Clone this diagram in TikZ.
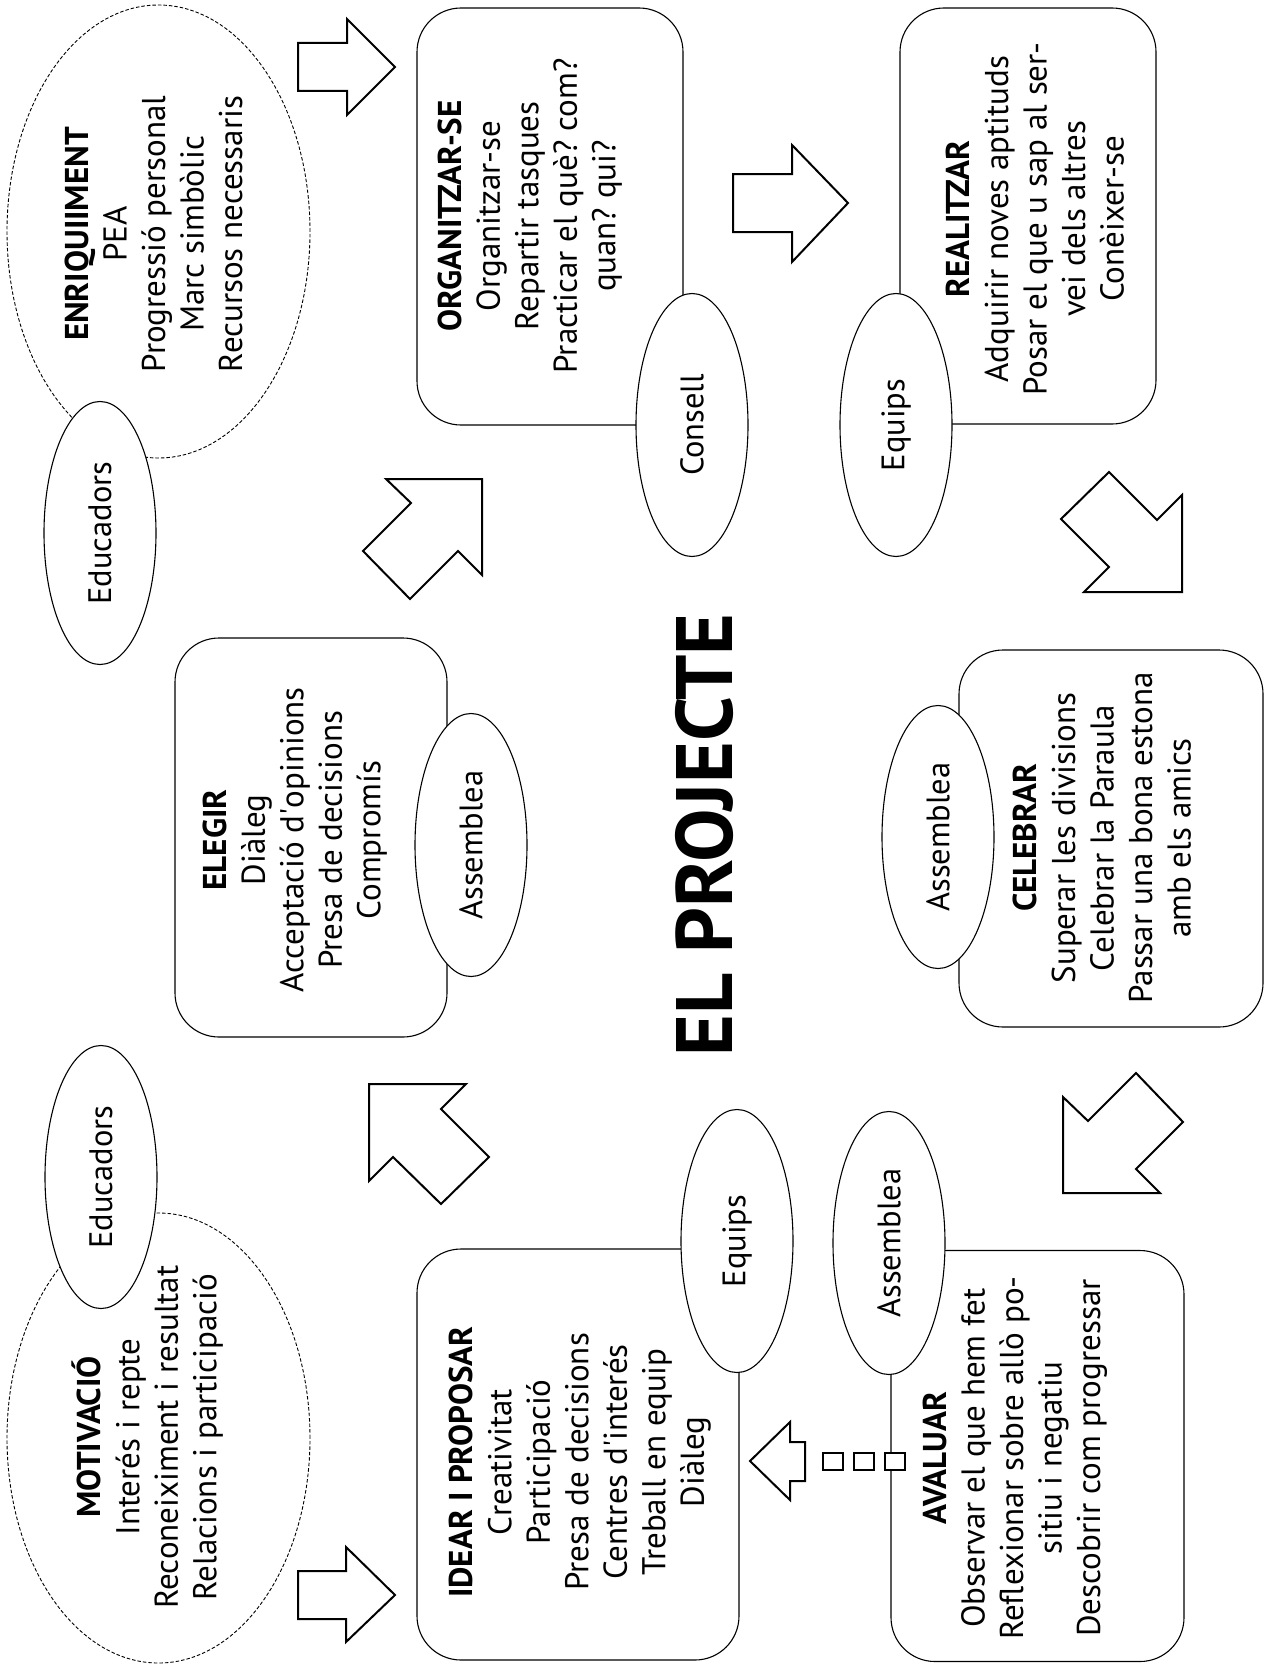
\documentclass[tikz,border=0pt]{standalone}
\usepackage{fontspec}
\setmainfont{PT Sans}
\usetikzlibrary{shapes.geometric}
\frenchspacing
\begin{document}
\begin{tikzpicture}[x=1pt,y=-1pt,
  roundbox/.style={draw, line width=1.1pt, rounded corners=44pt, fill=white, inner sep=0pt},
  tagell/.style={draw, line width=1.1pt, ellipse, fill=white, rotate=90, minimum width=263pt, minimum height=112pt, inner sep=0pt, font=\fontsize{32.5}{36}\selectfont},
  dashell/.style={draw, line width=0.9pt, dash pattern=on 3.5pt off 2pt, ellipse, inner sep=0pt},
  txt/.style={rotate=90, align=center, inner sep=0pt, font=\fontsize{33}{38.5}\selectfont},
  blk/.style={draw, line width=2pt, fill=white, line join=miter},
  sqr/.style={draw, line width=2pt, fill=white}
]
\fill[white] (0,0) rectangle (1266,1667);
\useasboundingbox (0,0) rectangle (1266,1667);

% dashed clouds
\node[dashell, minimum width=303pt, minimum height=453pt] (enrc) at (158.5,231.5) {};
\node[dashell, minimum width=303pt, minimum height=450pt] (motc) at (158.5,1438) {};
\node[txt] (enrt) at (153.5,234) {\textbf{ENRIQUIIMENT}\\PEA\\Progressió personal\\Marc simbòlic\\Recursos necessaris};
\node[txt] (mott) at (147.5,1437) {\textbf{MOTIVACIÓ}\\Interés i repte\\Reconeiximent i resultat\\Relacions i participació};
\node[tagell] (edu1) at (100,533) {Educadors};
\node[tagell] (edu2) at (101,1177) {Educadors};

% boxes
\node[roundbox, minimum width=266pt, minimum height=417pt] (orgb) at (550,216.5) {};
\node[roundbox, minimum width=256pt, minimum height=416pt] (realb) at (1028,216) {};
\node[roundbox, minimum width=272pt, minimum height=399pt] (eleb) at (311,837.5) {};
\node[roundbox, minimum width=304pt, minimum height=377pt] (celb) at (1111,838.5) {};
\node[roundbox, minimum width=322pt, minimum height=411pt] (ideb) at (578,1454.5) {};
\node[roundbox, minimum width=293pt, minimum height=411pt] (avab) at (1037.5,1456) {};

\node[txt] (orgt) at (530,216) {\textbf{ORGANITZAR-SE}\\Organitzar-se\\Repartir tasques\\Practicar el què? com?\\quan? qui?};
\node[txt] (realt) at (1035,219) {\textbf{REALITZAR}\\Adquirir noves aptituds\\Posar el que u sap al ser-\\vei dels altres\\Conèixer-se};
\node[txt] (elet) at (295,840) {\textbf{ELEGIR}\\Diàleg\\Acceptació d\textquotesingle opinions\\Presa de decisions\\Compromís};
\node[txt] (celt) at (1102,838) {\textbf{CELEBRAR}\\Superar les divisions\\Celebrar la Paraula\\Passar una bona estona\\amb els amics};
\node[txt] (idet) at (580,1462) {\textbf{IDEAR I PROPOSAR}\\Creativitat\\Participació\\Presa de decisions\\Centres d\textquotesingle interés\\Treball en equip\\Diàleg};
\node[txt] (avat) at (1015,1458) {\textbf{AVALUAR}\\Observar el que hem fet\\Reflexionar sobre allò po-\\sitiu i negatiu\\Descobrir com progressar};

% tags
\node[tagell] (cons) at (692,425) {Consell};
\node[tagell] (equ1) at (896,425) {Equips};
\node[tagell] (ass1) at (471,845) {Assemblea};
\node[tagell] (ass2) at (938,837) {Assemblea};
\node[tagell] (equ2) at (737,1241) {Equips};
\node[tagell] (ass3) at (889,1243) {Assemblea};

% title
\node[rotate=90, inner sep=0pt, font=\fontsize{80}{80}\selectfont\bfseries] (title) at (704,835) {EL PROJECTE};

% block arrows
\draw[blk] (298,43) -- (347,43) -- (347,19) -- (395,67) -- (347,115) -- (347,91) -- (298,91) -- cycle;
\draw[blk] (733,174) -- (792,174) -- (792,145) -- (848,203) -- (792,262) -- (792,232) -- (733,232) -- cycle;
\draw[blk] (1109,472) -- (1157,520) -- (1182,495) -- (1182,592) -- (1084,592) -- (1109,567) -- (1061,519) -- cycle;
\draw[blk] (1063,1097) -- (1088,1121) -- (1136,1073) -- (1183,1122) -- (1136,1169) -- (1160,1193) -- (1063,1193) -- cycle;
\draw[blk] (369,1084) -- (466,1084) -- (441,1109) -- (489,1157) -- (441,1204) -- (393,1157) -- (369,1181) -- cycle;
\draw[blk] (386,479) -- (482,479) -- (482,575) -- (458,551) -- (410,599) -- (363,551) -- (411,503) -- cycle;
\draw[blk] (298,1571) -- (346,1571) -- (346,1547) -- (395,1595) -- (346,1642) -- (346,1619) -- (298,1619) -- cycle;

% feedback arrow with squares
\draw[blk] (750,1461) -- (790,1422) -- (790,1442) -- (805,1442) -- (805,1481) -- (790,1481) -- (790,1500) -- cycle;
\draw[sqr] (823,1453) rectangle (843,1470);
\draw[sqr] (854,1453) rectangle (874,1470);
\draw[sqr] (885,1453) rectangle (905,1470);
\end{tikzpicture}
\end{document}
